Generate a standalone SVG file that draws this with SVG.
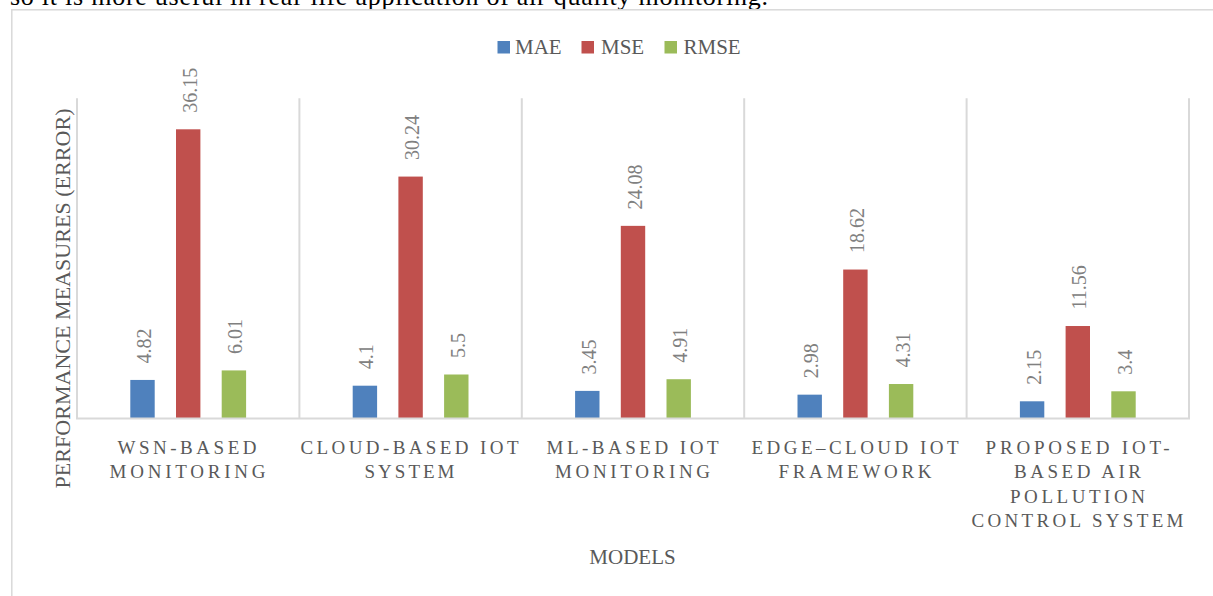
<svg xmlns="http://www.w3.org/2000/svg" width="1213" height="596" viewBox="0 0 1213 596">
  <style>
    .body { font-family: "Liberation Serif", "DejaVu Serif", serif; font-size: 26px; fill: #000; }
    .frame { fill: #fff; stroke: #d9d9d9; stroke-width: 1.5; }
    .grid { stroke: #d9d9d9; stroke-width: 2; fill: none; }
    .legend { font-family: "Liberation Serif", "DejaVu Serif", serif; font-size: 21px; fill: #595959; }
    .title { font-family: "Liberation Serif", "DejaVu Serif", serif; font-size: 21px; fill: #595959; }
    .ytitle { font-family: "Liberation Serif", "DejaVu Serif", serif; font-size: 22px; fill: #595959; text-anchor: middle; }
    .cat { font-family: "Liberation Serif", "DejaVu Serif", serif; font-size: 19px; fill: #595959; text-anchor: middle; }
    .val { font-family: "Liberation Serif", "DejaVu Serif", serif; font-size: 20px; fill: #808080; }
    .mae { fill: #4f81bd; }
    .mse { fill: #c0504d; }
    .rmse { fill: #9bbb59; }
  </style>

  <!-- page text above the chart -->
  <text class="body" x="10" y="5" textLength="758">so it is more useful in real-life application of air quality monitoring.</text>

  <!-- chart area -->
  <rect class="frame" x="11.8" y="9.8" width="1220" height="600"/>

  <!-- legend -->
  <g id="legend">
    <rect class="mae" x="497.5" y="41" width="12.5" height="12.5"/>
    <text class="legend" x="515" y="54.3">MAE</text>
    <rect class="mse" x="581.5" y="41" width="12.5" height="12.5"/>
    <text class="legend" x="601" y="54.3">MSE</text>
    <rect class="rmse" x="664.5" y="41" width="12.5" height="12.5"/>
    <text class="legend" x="683.5" y="54.3">RMSE</text>
  </g>

  <!-- bars: baseline y=418.5, 8 px per unit -->
  <g id="bars">
    <!-- WSN-based monitoring -->
    <rect class="mae" x="130.3" y="379.94" width="24.4" height="38.56"/>
    <rect class="mse" x="176" y="129.3" width="24.4" height="289.2"/>
    <rect class="rmse" x="221.7" y="370.42" width="24.4" height="48.08"/>
    <!-- Cloud-based IoT system -->
    <rect class="mae" x="352.7" y="385.7" width="24.4" height="32.8"/>
    <rect class="mse" x="398.4" y="176.58" width="24.4" height="241.92"/>
    <rect class="rmse" x="444.1" y="374.5" width="24.4" height="44"/>
    <!-- ML-based IoT monitoring -->
    <rect class="mae" x="575.1" y="390.9" width="24.4" height="27.6"/>
    <rect class="mse" x="620.8" y="225.86" width="24.4" height="192.64"/>
    <rect class="rmse" x="666.5" y="379.22" width="24.4" height="39.28"/>
    <!-- Edge-cloud IoT framework -->
    <rect class="mae" x="797.5" y="394.66" width="24.4" height="23.84"/>
    <rect class="mse" x="843.2" y="269.54" width="24.4" height="148.96"/>
    <rect class="rmse" x="888.9" y="384.02" width="24.4" height="34.48"/>
    <!-- Proposed system -->
    <rect class="mae" x="1019.9" y="401.3" width="24.4" height="17.2"/>
    <rect class="mse" x="1065.6" y="326.02" width="24.4" height="92.48"/>
    <rect class="rmse" x="1111.3" y="391.3" width="24.4" height="27.2"/>
  </g>

  <!-- category separators and horizontal axis -->
  <g id="axes">
    <path class="grid" d="M77 98.3V418.5M299.4 98.3V418.5M521.8 98.3V418.5M744.2 98.3V418.5M966.6 98.3V418.5M1189 98.3V418.5"/>
    <path class="grid" d="M76 418.5H1190"/>
  </g>

  <!-- value labels, rotated -->
  <g id="values">
    <text class="val" transform="translate(151 363.4) rotate(-90)">4.82</text>
    <text class="val" transform="translate(196.7 112.8) rotate(-90)">36.15</text>
    <text class="val" transform="translate(242.4 353.9) rotate(-90)">6.01</text>
    <text class="val" transform="translate(373.4 369.2) rotate(-90)">4.1</text>
    <text class="val" transform="translate(419.1 160.1) rotate(-90)">30.24</text>
    <text class="val" transform="translate(464.8 358) rotate(-90)">5.5</text>
    <text class="val" transform="translate(595.8 374.4) rotate(-90)">3.45</text>
    <text class="val" transform="translate(641.5 209.4) rotate(-90)">24.08</text>
    <text class="val" transform="translate(687.2 362.7) rotate(-90)">4.91</text>
    <text class="val" transform="translate(818.2 378.2) rotate(-90)">2.98</text>
    <text class="val" transform="translate(863.9 253) rotate(-90)">18.62</text>
    <text class="val" transform="translate(909.6 367.5) rotate(-90)">4.31</text>
    <text class="val" transform="translate(1040.6 384.8) rotate(-90)">2.15</text>
    <text class="val" transform="translate(1086.3 309.5) rotate(-90)">11.56</text>
    <text class="val" transform="translate(1132 374.8) rotate(-90)">3.4</text>
  </g>

  <!-- category labels -->
  <g id="cat-wsn">
    <text class="cat" x="187" y="453.5" textLength="139">WSN-BASED</text>
    <text class="cat" x="187.5" y="478" textLength="156">MONITORING</text>
  </g>
  <g id="cat-cloud">
    <text class="cat" x="409.5" y="453.5" textLength="218">CLOUD-BASED IOT</text>
    <text class="cat" x="409.5" y="478" textLength="90">SYSTEM</text>
  </g>
  <g id="cat-ml">
    <text class="cat" x="632.5" y="453.5" textLength="172">ML-BASED IOT</text>
    <text class="cat" x="632.5" y="478" textLength="155">MONITORING</text>
  </g>
  <g id="cat-edge">
    <text class="cat" x="855" y="453.5" textLength="207">EDGE–CLOUD IOT</text>
    <text class="cat" x="855" y="478" textLength="153">FRAMEWORK</text>
  </g>
  <g id="cat-proposed">
    <text class="cat" x="1077.5" y="453.5" textLength="184">PROPOSED IOT-</text>
    <text class="cat" x="1077.5" y="478" textLength="127">BASED AIR</text>
    <text class="cat" x="1077.5" y="502.5" textLength="135">POLLUTION</text>
    <text class="cat" x="1077.5" y="527.3" textLength="212">CONTROL SYSTEM</text>
  </g>

  <!-- axis titles -->
  <g id="axis-titles">
    <text class="title" text-anchor="middle" x="632.5" y="564.3">MODELS</text>
    <text class="ytitle" transform="translate(70 298.5) rotate(-90)" textLength="380">PERFORMANCE MEASURES (ERROR)</text>
  </g>
</svg>
